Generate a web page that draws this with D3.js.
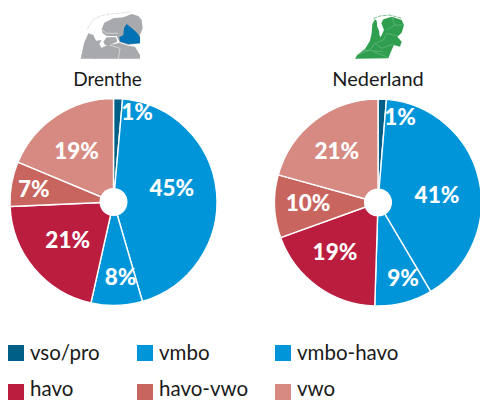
<!DOCTYPE html>
<html><head><meta charset="utf-8">
<script src="https://cdn.jsdelivr.net/npm/d3@7"></script>
<style>html,body{margin:0;background:#fff}svg{display:block}text{font-family:Lato,sans-serif}</style>
</head><body><svg id="c" width="480" height="400"></svg>
<script>
const categories=["vso/pro","vmbo","vmbo-havo","havo","havo-vwo","vwo"];
const colors=["#005f86","#0095d9","#0095d9","#bb1d3e","#c9655f","#d68a82"];
const titles=["Drenthe","Nederland"];
const drentheValues=[1.4,44.1,8,20.8,7,18.7];
const nederlandValues=[1.3,40.2,9,19,9.8,20.7];
const drentheText=["1%","45%","8%","21%","7%","19%"];
const nederlandText=["1%","41%","9%","19%","10%","21%"];
const drenthePolar=[[.90,14.6],[.58,76.5],[.73,174.7],[.575,230.3],[.78,279.3],[.61,324.2]];
const nederlandPolar=[[.85,14.5],[.575,82.3],[.765,161.6],[.63,221.3],[.676,270],[.635,321.2]];

const greyNorth=[[125,88],[133,68],[160,55],[190,52],[215,42],[235,48],[245,60],[248,85],[240,105],[240,130],[205,135],[178,125],[170,108],[140,108],[128,100]];
const greyWest=[[62,176],[72,130],[85,100],[100,105],[108,122],[125,120],[118,132],[125,145],[108,176]];
const greySouth=[[100,176],[112,150],[140,136],[165,132],[178,128],[205,137],[225,140],[240,165],[240,176]];
const greyFlevo=[[130,125],[140,112],[168,112],[172,125],[150,135],[135,135]];
const mapBlue=[[200,72],[222,90],[232,100],[240,112],[240,130],[205,132],[180,125],[178,112],[190,105],[192,85]];
const mapGreyIslands=[[82,88],[100,58],[125,47],[150,42],[175,40],[215,36]];
const mapGreyLines=[[[125,88],[140,100],[175,100]],[[150,136],[180,145],[175,176]]];
const mapGreenLand=[[105,176],[112,165],[135,147],[150,122],[155,100],[157,72],[165,58],[170,62],[172,80],[178,95],[178,105],[182,112],[192,90],[184,70],[190,58],[215,50],[245,60],[252,75],[245,98],[232,110],[245,125],[240,140],[222,135],[215,150],[205,175]];
const mapGreenIslands=[[160,56],[180,48],[210,45],[245,55]];
const mapGreenLines=[[[215,52],[225,75],[200,90]],[[225,75],[250,75]],[[232,108],[200,100],[190,120],[165,130],[185,145],[210,135],[225,135]],[[165,130],[150,150],[110,165]],[[160,155],[205,172]],[[125,150],[190,155]]];

const legendCols=[8,137,275], legendRows=[353,392], legendBaselines=[360,396];
const svg=d3.select("#c");
const mapX=d3.scaleLinear().domain([0,3]).range([0,1]);
const mapY=d3.scaleLinear().domain([0,3]).range([0,1]);
const line=d3.line().x(d=>mapX(d[0])).y(d=>mapY(d[1]));
const closed=d=>line(d)+"Z";

const m1=svg.append("g").attr("transform","translate(60,0)");
m1.selectAll(".p").data([greyNorth,greyWest,greySouth,greyFlevo]).join("path").attr("d",closed).attr("fill","#a7a9ac");
m1.selectAll(".l").data(mapGreyLines).join("path").attr("d",line).attr("fill","none").attr("stroke","#e6e6e6").attr("stroke-width",.7);
m1.append("path").attr("d",closed(mapBlue)).attr("fill","#0071b3");
m1.append("path").attr("d",line(mapGreyIslands)).attr("fill","none").attr("stroke","#c9c9c9").attr("stroke-width",.6).attr("stroke-dasharray","4 1");

const m2=svg.append("g").attr("transform","translate(320,0)");
m2.append("path").attr("d",closed(mapGreenLand)).attr("fill","#2f9e4f");
m2.selectAll(".l").data(mapGreenLines).join("path").attr("d",line).attr("fill","none").attr("stroke","#7fc596").attr("stroke-width",.5);
m2.append("path").attr("d",line(mapGreenIslands)).attr("fill","none").attr("stroke","#5cb276").attr("stroke-width",.8).attr("stroke-dasharray","4 1");

const pieGen=d3.pie().sort(null).value(d=>d);
const R=103.5;
const arc=d3.arc().innerRadius(0).outerRadius(R);
function drawPie(cx,cy,values,texts,polar,title){
  const g=svg.append("g").attr("transform",`translate(${cx},${cy})`);
  g.selectAll("path").data(pieGen(values)).join("path").attr("d",arc)
    .attr("fill",(d,i)=>colors[i]).attr("stroke","#fff").attr("stroke-width",1.4);
  g.append("circle").attr("r",14).attr("fill","#fff");
  g.selectAll("text.v").data(texts).join("text").attr("class","v")
    .attr("x",(d,i)=>R*polar[i][0]*Math.sin(polar[i][1]*Math.PI/180))
    .attr("y",(d,i)=>-R*polar[i][0]*Math.cos(polar[i][1]*Math.PI/180))
    .attr("dy",".36em").attr("text-anchor","middle").attr("fill","#fff")
    .attr("font-size",22.5).attr("font-weight",900).text(d=>d);
  svg.append("text").attr("x",cx-(title==="Drenthe"?6:0)).attr("y",86).attr("text-anchor","middle")
    .attr("font-size",title==="Drenthe"?19:20).attr("fill","#1a1a1a").text(title);
}
drawPie(113.5,202,drentheValues,drentheText,drenthePolar,titles[0]);
drawPie(378,202.5,nederlandValues,nederlandText,nederlandPolar,titles[1]);

const lg=svg.selectAll("g.lg").data(categories).join("g").attr("class","lg")
  .attr("transform",(d,i)=>`translate(${legendCols[i%3]},0)`);
lg.append("rect").attr("y",(d,i)=>legendRows[Math.floor(i/3)]-8).attr("width",16).attr("height",16).attr("fill",(d,i)=>colors[i]);
lg.append("text").attr("x",22).attr("y",(d,i)=>legendBaselines[Math.floor(i/3)]).attr("font-size",20.5).attr("fill","#1a1a1a").text(d=>d);
</script></body></html>
